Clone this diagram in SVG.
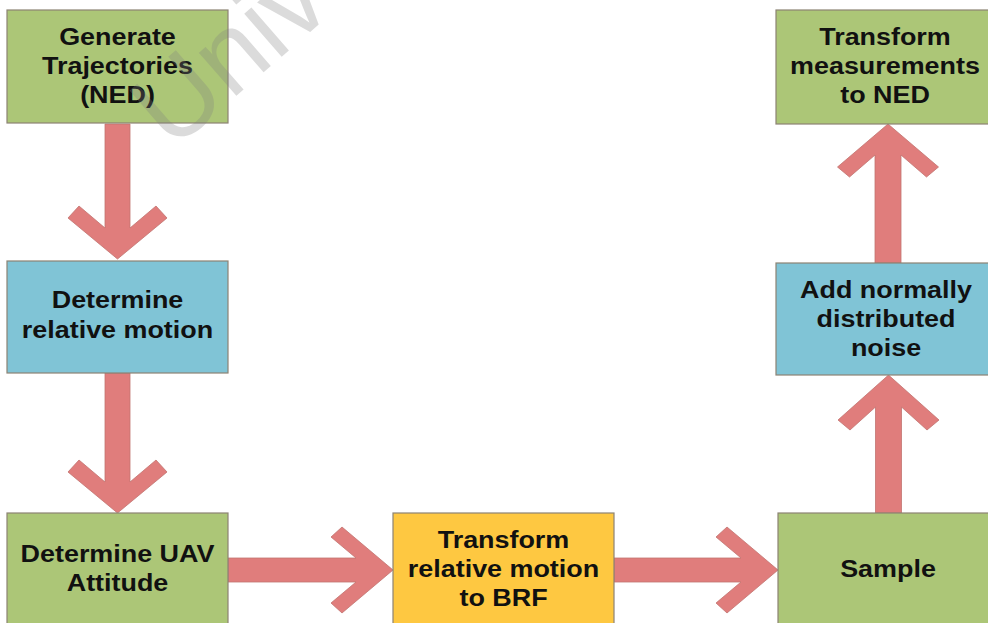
<svg xmlns="http://www.w3.org/2000/svg" width="988" height="623" viewBox="0 0 988 623">
<style>
.box{stroke:#8C8373;stroke-width:1.2}
.g{fill:#ACC677}
.b{fill:#80C4D6}
.y{fill:#FEC841}
.arr{fill:#E07D7C;stroke:#C27470;stroke-width:0.8}
.t{font-family:"Liberation Sans",Arial,sans-serif;font-weight:bold;font-size:23px;fill:#111;text-anchor:middle}
.wm{font-family:"Liberation Sans",Arial,sans-serif;font-size:108px;fill:#808080;opacity:0.28}
</style>
<rect width="988" height="623" fill="#fff"/>
<g id="connectors">
<path class="arr" d="M105,124 L130,124 L130,228 L156,206 L167,218 L117.5,259 L68,218 L79,206 L105,228 Z"/>
<path class="arr" d="M105,373 L130,373 L130,482 L156,460 L167,472 L117.5,513 L68,472 L79,460 L105,482 Z"/>
<path class="arr" d="M228,558 L356,558 L331,537 L342,527 L393,570 L342,613 L331,603 L356,582 L228,582 Z"/>
<path class="arr" d="M614,558 L741,558 L716,537 L727,527 L778,570 L727,613 L716,603 L741,582 L614,582 Z"/>
<path class="arr" d="M875.5,513 L875.5,407 L850,430 L838,420 L888.5,375 L939,420 L927,430 L901.5,407 L901.5,513 Z"/>
<path class="arr" d="M875,263 L875,155 L849.5,177 L837.5,167 L888,124 L938.5,167 L926.5,177 L901,155 L901,263 Z"/>
</g>
<g id="n1"><rect class="box g" x="7" y="10" width="221" height="113"/>
<g transform="translate(117.5,0) scale(1.17,1)"><text class="t" x="0" y="45">Generate</text><text class="t" x="0" y="74">Trajectories</text><text class="t" x="0" y="103">(NED)</text></g></g>
<g id="n2"><rect class="box b" x="7" y="261" width="221" height="112"/>
<g transform="translate(117.5,0) scale(1.17,1)"><text class="t" x="0" y="308">Determine</text><text class="t" x="0" y="338">relative motion</text></g></g>
<g id="n3"><rect class="box g" x="7" y="513" width="221" height="120"/>
<g transform="translate(117.5,0) scale(1.17,1)"><text class="t" x="0" y="562">Determine UAV</text><text class="t" x="0" y="591">Attitude</text></g></g>
<g id="n4"><rect class="box y" x="393" y="513" width="221" height="120"/>
<g transform="translate(503.5,0) scale(1.17,1)"><text class="t" x="0" y="548">Transform</text><text class="t" x="0" y="577">relative motion</text><text class="t" x="0" y="606">to BRF</text></g></g>
<g id="n5"><rect class="box g" x="778" y="513" width="220" height="120"/>
<g transform="translate(888,0) scale(1.17,1)"><text class="t" x="0" y="577">Sample</text></g></g>
<g id="n6"><rect class="box b" x="776" y="263" width="222" height="112"/>
<g transform="translate(886,0) scale(1.17,1)"><text class="t" x="0" y="298">Add normally</text><text class="t" x="0" y="327">distributed</text><text class="t" x="0" y="356">noise</text></g></g>
<g id="n7"><rect class="box g" x="776" y="10" width="222" height="114"/>
<g transform="translate(885,0) scale(1.17,1)"><text class="t" x="0" y="45">Transform</text><text class="t" x="0" y="74">measurements</text><text class="t" x="0" y="103">to NED</text></g></g>
<text class="wm" transform="translate(172,152) rotate(-41)">Unive</text>
</svg>
